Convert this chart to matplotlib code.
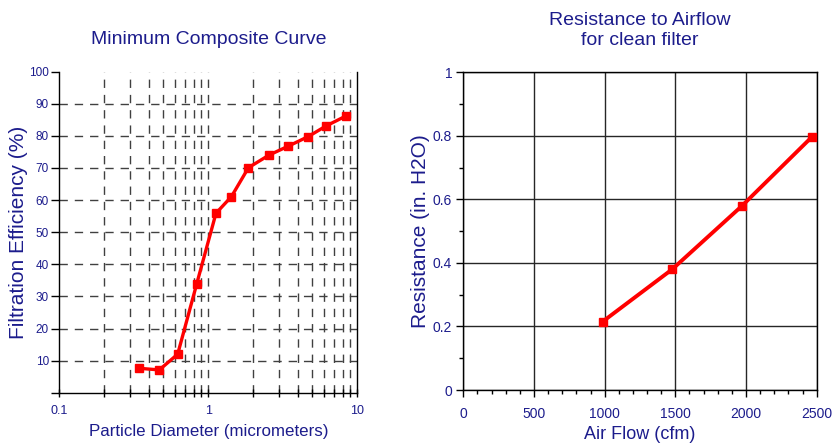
import matplotlib
matplotlib.use("Agg")
import matplotlib.pyplot as plt
from matplotlib.ticker import FixedLocator, NullFormatter, MultipleLocator

plt.rcParams['font.family'] = ['Liberation Sans', 'DejaVu Sans']

NAVY = '#1c1c8c'
RED = '#ff0000'

# left chart: minimum composite curve
particle_diameter = [0.344, 0.469, 0.623, 0.836, 1.126, 1.43, 1.86, 2.55, 3.44, 4.69, 6.17, 8.39]
efficiency = [7.6, 7.1, 12.0, 33.9, 55.9, 61.1, 70.1, 74.0, 76.8, 79.8, 83.1, 86.2]
eff_ticks = [10, 20, 30, 40, 50, 60, 70, 80, 90, 100]
diam_ticks = [0.1, 1, 10]
diam_labels = ['0.1', '1', '10']

# right chart: resistance to airflow
air_flow = [985, 1478, 1970, 2467]
resistance = [0.215, 0.380, 0.579, 0.797]
flow_ticks = [0, 500, 1000, 1500, 2000, 2500]
res_ticks = [0, 0.2, 0.4, 0.6, 0.8, 1]
res_labels = ['0', '0.2', '0.4', '0.6', '0.8', '1']

fig = plt.figure(figsize=(8.34, 4.44), dpi=100)

# ---- left ----
ax1 = fig.add_axes([59.3 / 834, 51.3 / 444, 298 / 834, 321 / 444])
ax1.set_xscale('log')
ax1.set_xlim(0.1, 10)
ax1.set_ylim(0, 100)

minor_pos = [m * d for d in (0.1, 1) for m in range(2, 10)]
ax1.xaxis.set_major_locator(FixedLocator(diam_ticks))
ax1.set_xticklabels(diam_labels)
ax1.xaxis.set_minor_locator(FixedLocator(minor_pos))
ax1.xaxis.set_minor_formatter(NullFormatter())
ax1.set_yticks([0] + eff_ticks)
ax1.set_yticklabels([''] + [str(t) for t in eff_ticks])

# dashed grid at every decade subdivision
for x in minor_pos + [1]:
    ax1.axvline(x, color='0.25', lw=1, ls=(0, (6, 5)), zorder=1)
for y in eff_ticks[:-1]:
    ax1.axhline(y, color='0.25', lw=1, ls=(0, (6, 5)), zorder=1)

ax1.plot(particle_diameter, efficiency, color=RED, lw=2.4, marker='s', ms=5.5, zorder=3)

ax1.spines['top'].set_visible(False)
for s in ('left', 'bottom', 'right'):
    ax1.spines[s].set_color('black')
    ax1.spines[s].set_linewidth(1)
ax1.tick_params(axis='x', which='both', direction='inout', length=6, width=1, colors='black',
                labelcolor=NAVY, labelsize=9, pad=6)
ax1.tick_params(axis='y', which='major', direction='out', length=6, width=1, colors='black',
                labelcolor=NAVY, labelsize=8.5, pad=1.5)
ax1.set_title('Minimum Composite Curve', color=NAVY, fontsize=14, pad=20)
ax1.set_xlabel('Particle Diameter (micrometers)', color=NAVY, fontsize=12.2, labelpad=5)
ax1.set_ylabel('Filtration Efficiency (%)', color=NAVY, fontsize=15, labelpad=1)

# ---- right ----
ax2 = fig.add_axes([463.3 / 834, 54 / 444, 353.4 / 834, 317.7 / 444])
ax2.set_xlim(0, 2500)
ax2.set_ylim(0, 1)
ax2.set_xticks(flow_ticks)
ax2.set_yticks(res_ticks)
ax2.set_yticklabels(res_labels)
ax2.xaxis.set_minor_locator(MultipleLocator(100))
ax2.yaxis.set_minor_locator(MultipleLocator(0.1))
ax2.grid(True, which='major', color='0.15', lw=1, zorder=1)
ax2.set_axisbelow(True)

ax2.plot(air_flow, resistance, color=RED, lw=2.8, marker='s', ms=6, zorder=3)

for s in ax2.spines.values():
    s.set_color('black')
    s.set_linewidth(1)
ax2.tick_params(which='major', direction='out', length=5, width=1, colors='black',
                labelcolor=NAVY, labelsize=10, pad=3)
ax2.tick_params(axis='x', which='major', pad=7)
ax2.tick_params(which='minor', direction='out', length=3, width=1, colors='black')
ax2.set_title('Resistance to Airflow\nfor clean filter', color=NAVY, fontsize=14, pad=20)
ax2.set_xlabel('Air Flow (cfm)', color=NAVY, fontsize=13, labelpad=4)
ax2.set_ylabel('Resistance (in. H2O)', color=NAVY, fontsize=15, labelpad=2)

fig.savefig('out.png', dpi=100)
